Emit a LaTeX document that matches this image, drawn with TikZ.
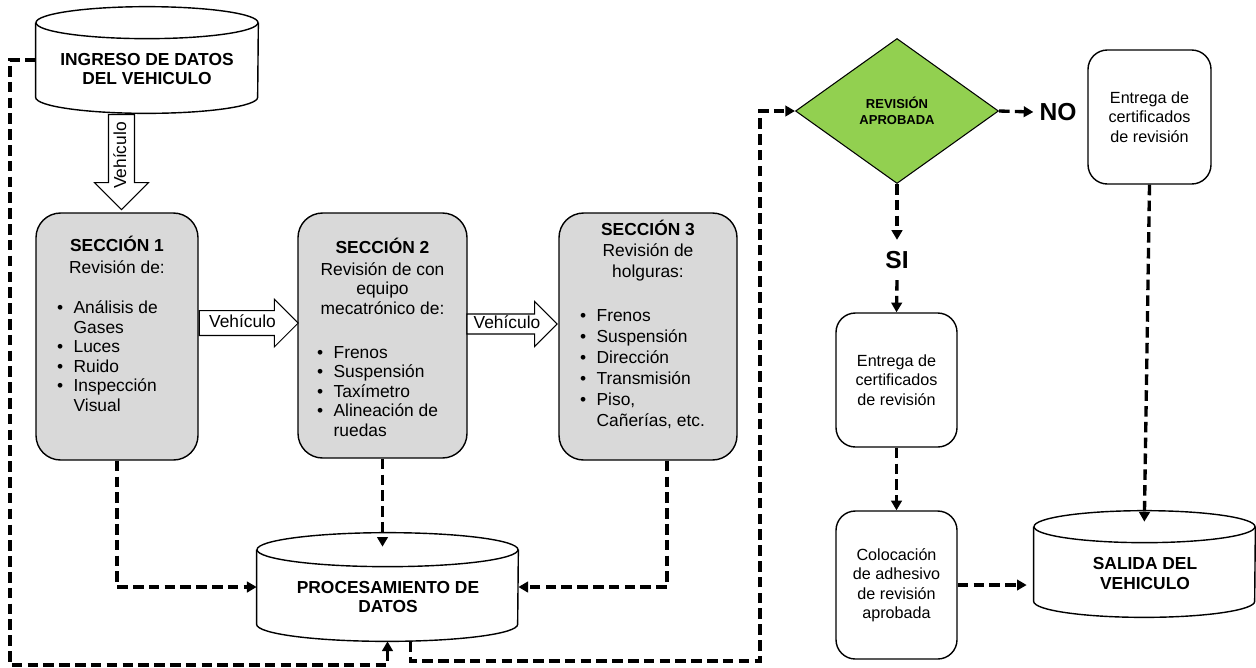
\documentclass[tikz,border=0pt]{standalone}
\usepackage{fontspec}
\setmainfont{Liberation Sans}
\usepackage{xcolor}
\usetikzlibrary{shapes.geometric,shapes.arrows,arrows.meta,positioning}

\definecolor{gris}{HTML}{D9D9D9}
\definecolor{verde}{HTML}{92D050}
\newlength{\pu}
\setlength{\pu}{0.02cm}
\newcommand{\txtsec}{\fontsize{9.9}{11.1}\selectfont}
\newcommand{\txtcaja}{\fontsize{9.2}{11.1}\selectfont}
\newcommand{\vinetas}[3]{\makebox[#1\pu][l]{\hspace{#2\pu}\begin{tabular}[t]{@{}l@{\hspace{6pt}}l@{}}#3\end{tabular}}}
% contorno de cilindro: nodo, semiancho, radio vertical (px)
\newcommand{\cilindro}[3]{%
    \draw[line width=0.8pt] ([yshift=-#3*\pu]#1.north west) -- ([yshift=#3*\pu]#1.south west)
        arc[start angle=180, end angle=360, x radius=#2*\pu, y radius=#3*\pu]
        -- ([yshift=-#3*\pu]#1.north east);
    \draw[line width=0.8pt] ([yshift=-#3*\pu]#1.north) ellipse [x radius=#2*\pu, y radius=#3*\pu];
}

\tikzset{
    seccion/.style={draw, line width=0.8pt, fill=gris, rounded corners=14pt, align=center, inner sep=0pt, font=\txtsec},
    caja/.style={draw, line width=0.8pt, rounded corners=11pt, align=center, inner sep=0pt, font=\txtcaja},
    basedatos/.style={rectangle, inner sep=0pt},
    txtbase/.style={align=center, inner sep=0pt, font=\fontsize{9.9}{11.3}\selectfont\bfseries},
    flecha/.style={single arrow, draw, fill=white, line width=0.6pt, single arrow head indent=0pt, inner xsep=0pt, text height=7.5pt, text depth=2.3pt, font=\txtsec},
    punteada/.style={line width=1.9pt, dash pattern=on 6pt off 3pt, -{Triangle[length=5.5pt,width=6pt]}},
    etiqueta/.style={font=\fontsize{14}{16}\selectfont\bfseries, inner ysep=6.3pt}
}

\begin{document}
\begin{tikzpicture}[x=0.02cm, y=-0.02cm]
    \useasboundingbox (0,0) rectangle (1256,667);

    % bases de datos
    \node[basedatos, minimum width=222*\pu, minimum height=106*\pu] (ingreso) at (147,60) {};
    \node[txtbase] (ingresotxt) at (147,69) {INGRESO DE DATOS\\DEL VEHICULO};
    \node[basedatos, minimum width=261*\pu, minimum height=108*\pu] (proc) at (387.5,587) {};
    \node[txtbase] (proctxt) at (388,597) {PROCESAMIENTO DE\\DATOS};
    \node[basedatos, minimum width=221*\pu, minimum height=106*\pu] (salida) at (1144.5,564) {};
    \node[txtbase] (salidatxt) at (1145,573.5) {SALIDA DEL\\VEHICULO};
    \cilindro{ingreso}{111}{16}
    \cilindro{proc}{130.5}{17}
    \cilindro{salida}{110.5}{16}

    % secciones
    \node[seccion, minimum width=162*\pu, minimum height=247*\pu] (s1) at (117,336.5) {%
        \textbf{SECCIÓN 1}\\[1.3pt] Revisión de:\\[12pt]
        \vinetas{162}{21}{•&Análisis de\\&Gases\\•&Luces\\•&Ruido\\•&Inspección\\&Visual\\&}};
    \node[seccion, minimum width=169*\pu, minimum height=245*\pu] (s2) at (382.5,335.5) {%
        \rule{0pt}{14pt}\textbf{SECCIÓN 2}\\[1.3pt] Revisión de con\\equipo\\mecatrónico de:\\[14pt]
        \vinetas{169}{19}{•&Frenos\\•&Suspensión\\•&Taxímetro\\•&Alineación de\\&ruedas}};
    \node[seccion, minimum width=178*\pu, minimum height=247*\pu, font=\fontsize{9.9}{11.9}\selectfont] (s3) at (648,336.5) {%
        \textbf{SECCIÓN 3}\\[0.5pt] Revisión de\\holguras:\\[13pt]
        \vinetas{178}{21}{•&Frenos\\•&Suspensión\\•&Dirección\\•&Transmisión\\•&Piso,\\&Cañerías, etc.\\&}};

    % flechas huecas
    \node[flecha, rotate=90, shape border rotate=180, inner ysep=2.2pt, single arrow head extend=7.9pt, minimum height=95*\pu] (f0) at (121.5,155.5) {Vehículo};
    \node[flecha, inner ysep=1.9pt, single arrow head extend=6.5pt, minimum height=99*\pu] (f1) at (242.5,323) {Vehículo};
    \node[flecha, inner ysep=0.5pt, single arrow head extend=7.1pt, minimum height=90*\pu] (f2) at (507,324) {Vehículo};

    % decision y cajas
    \node[diamond, draw, line width=0.6pt, fill=verde, minimum width=203*\pu, minimum height=145*\pu, inner sep=0pt, align=center, font=\fontsize{7.4}{9.2}\selectfont\bfseries] (decision) at (897,111) {REVISIÓN\\APROBADA};
    \node[etiqueta] (no) at (1058,112) {NO};
    \node[etiqueta] (si) at (897,260) {SI};
    \node[caja, minimum width=123*\pu, minimum height=134*\pu] (cert2) at (1149.5,117) {Entrega de\\certificados\\de revisión};
    \node[caja, minimum width=121*\pu, minimum height=134*\pu] (cert1) at (896.5,380) {Entrega de\\certificados\\de revisión};
    \node[caja, minimum width=121*\pu, minimum height=148*\pu] (coloc) at (896.5,585) {Colocación\\de adhesivo\\de revisión\\aprobada};

    \coordinate (esqA) at (10,665);
    \coordinate (esqB) at (760,661);

    % conectores
    \draw[punteada] (s1.south) |- (proc.west);
    \draw[punteada, shorten >=-14*\pu] (s2.south) -- (s2.south |- proc.north);
    \draw[punteada] ([xshift=19*\pu]s3.south) |- (proc.east);
    \draw[punteada] (ingreso.west) -| (esqA) -| (proc.south);
    \draw[punteada] ([xshift=23*\pu]proc.south) |- (esqB) |- (decision.west);
    \draw[punteada] (decision.east) -- (no.west);
    \draw[punteada] (decision.south) -- (si.north);
    \draw[punteada] (si.south) -- (cert1.north);
    \draw[punteada] (cert1.south) -- (coloc.north);
    \draw[punteada, shorten >=7*\pu] (coloc.east) -- (coloc.east -| salida.west);
    \draw[punteada, shorten >=-11*\pu] (cert2.south) -- (salida.north);
\end{tikzpicture}
\end{document}
